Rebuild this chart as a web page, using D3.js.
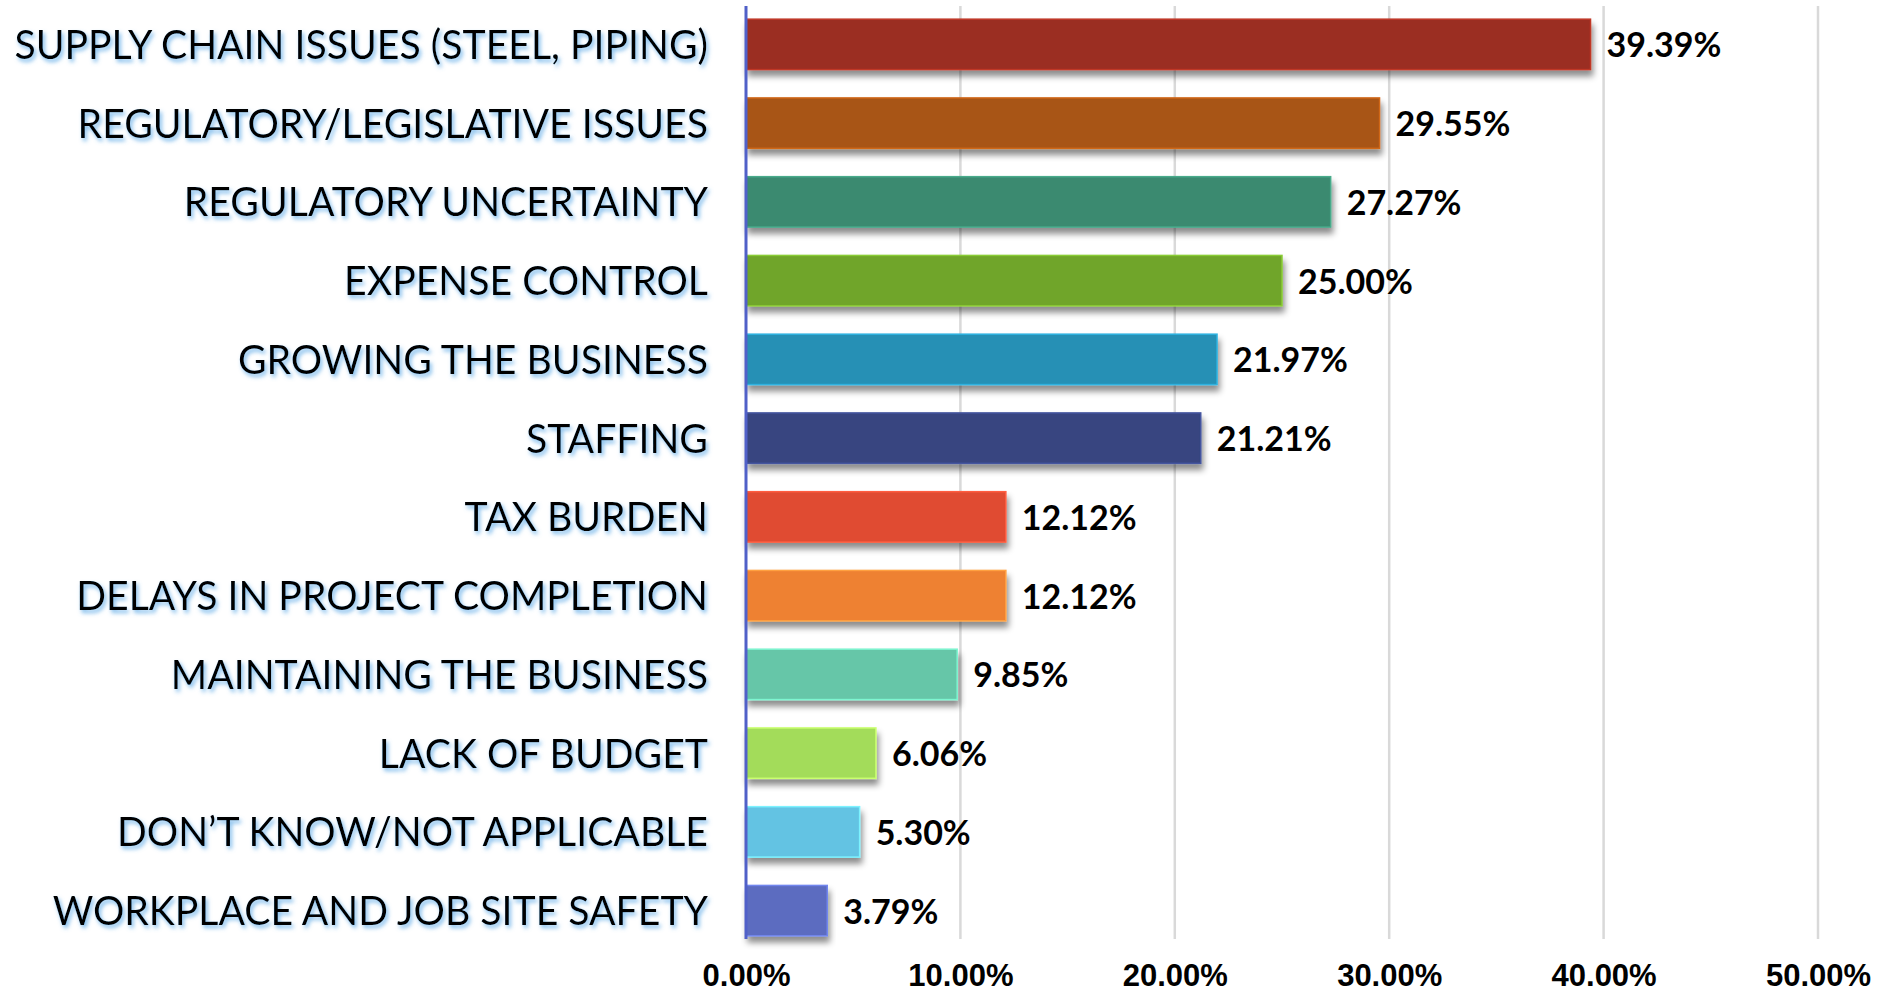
<!DOCTYPE html>
<html>
<head>
<meta charset="utf-8">
<script src="https://cdn.jsdelivr.net/npm/d3@7"></script>
<style>
  body { margin: 0; background: #fff; }
  svg { display: block; }
</style>
</head>
<body>
<svg width="1880" height="993"></svg>
<script>
var width = 1880;
var height = 993;

// data
var categories = [
  "SUPPLY CHAIN ISSUES (STEEL, PIPING)",
  "REGULATORY/LEGISLATIVE ISSUES",
  "REGULATORY UNCERTAINTY",
  "EXPENSE CONTROL",
  "GROWING THE BUSINESS",
  "STAFFING",
  "TAX BURDEN",
  "DELAYS IN PROJECT COMPLETION",
  "MAINTAINING THE BUSINESS",
  "LACK OF BUDGET",
  "DON\u2019T KNOW/NOT APPLICABLE",
  "WORKPLACE AND JOB SITE SAFETY"
];
var values = [39.39, 29.55, 27.27, 25.00, 21.97, 21.21, 12.12, 12.12, 9.85, 6.06, 5.30, 3.79];
var barColors = ["#9b2d20", "#a85413", "#3a8a70", "#6fa52a", "#2590b5", "#374580",
                 "#e04b33", "#ee8133", "#66c6a8", "#a3dc5a", "#63c3e3", "#5b6cc0"];
var ticks = [0, 10, 20, 30, 40, 50];

var svg = d3.select("svg");

var defs = svg.append("defs");
// shadow under the bars
defs.append("filter").attr("id", "barShadow")
    .attr("x", "-5%").attr("y", "-30%").attr("width", "115%").attr("height", "170%")
  .append("feDropShadow")
    .attr("dx", 2).attr("dy", 6).attr("stdDeviation", 3)
    .attr("flood-color", "#000").attr("flood-opacity", 0.45);
// bluish glow behind the category labels
defs.append("filter").attr("id", "textGlow")
    .attr("x", "-5%").attr("y", "-30%").attr("width", "115%").attr("height", "170%")
  .append("feDropShadow")
    .attr("dx", 2).attr("dy", 3).attr("stdDeviation", 2)
    .attr("flood-color", "#5aa8e6").attr("flood-opacity", 0.8);

var x = d3.scaleLinear()
    .domain([0, 50])
    .range([746, 1818]);

var y = d3.scaleBand()
    .domain(categories)
    .range([5, 950])
    .paddingInner(0.36)
    .paddingOuter(0.18);

// vertical gridlines
svg.append("g")
    .attr("class", "grid")
  .selectAll("line")
  .data(ticks.slice(1))
  .enter().append("line")
    .attr("x1", function(d) { return x(d); })
    .attr("x2", function(d) { return x(d); })
    .attr("y1", 6)
    .attr("y2", 939)
    .attr("stroke", "#d9d9d9")
    .attr("stroke-width", 2.5);

// bars
svg.append("g")
  .selectAll("rect")
  .data(values)
  .enter().append("rect")
    .attr("x", x(0))
    .attr("y", function(d, i) { return y(categories[i]); })
    .attr("width", function(d) { return x(d) - x(0); })
    .attr("height", y.bandwidth())
    .attr("fill", function(d, i) { return barColors[i]; })
    .attr("stroke", function(d, i) { return d3.color(barColors[i]).brighter(0.6); })
    .attr("stroke-width", 1.5)
    .attr("filter", "url(#barShadow)");

// value labels
svg.append("g")
  .selectAll("text")
  .data(values)
  .enter().append("text")
    .attr("x", function(d) { return x(d) + 16; })
    .attr("y", function(d, i) { return y(categories[i]) + y.bandwidth() / 2; })
    .attr("dy", "0.38em")
    .attr("font-family", "Lato, sans-serif")
    .attr("font-weight", "bold")
    .attr("font-size", 34)
    .attr("fill", "#000")
    .text(function(d) { return d.toFixed(2) + "%"; });

// category labels, squeezed horizontally a touch like the original
var labels = svg.append("g")
    .attr("transform", "translate(708,0) scale(0.98,1)");
labels.selectAll("text")
  .data(categories)
  .enter().append("text")
    .attr("x", 0)
    .attr("y", function(d) { return y(d) + y.bandwidth() / 2; })
    .attr("dy", "0.36em")
    .attr("text-anchor", "end")
    .attr("font-family", "Lato, sans-serif")
    .attr("font-size", 40)
    .attr("fill", "#000")
    .attr("filter", "url(#textGlow)")
    .text(function(d) { return d; });

// axis line at zero
svg.append("line")
    .attr("x1", x(0)).attr("x2", x(0))
    .attr("y1", 6).attr("y2", 939)
    .attr("stroke", "#5060c8")
    .attr("stroke-width", 3);

// x tick labels
var xAxis = svg.append("g")
    .attr("transform", "translate(0,964)")
    .call(d3.axisBottom(x).tickValues(ticks).tickSize(0).tickPadding(0)
      .tickFormat(function(d) { return d.toFixed(2) + "%"; }));
xAxis.select(".domain").remove();
xAxis.selectAll("text")
    .attr("font-family", "'Liberation Sans Narrow', 'Liberation Sans', sans-serif")
    .attr("font-weight", "bold")
    .attr("font-size", 31)
    .attr("fill", "#000");
</script>
</body>
</html>
